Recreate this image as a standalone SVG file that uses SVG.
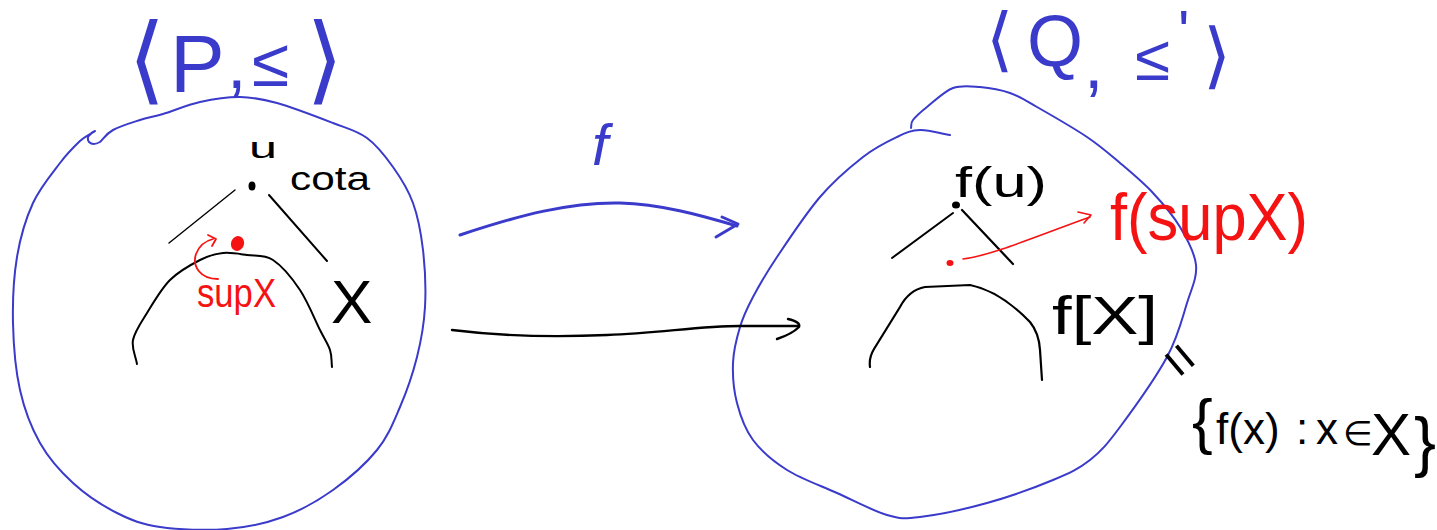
<svg xmlns="http://www.w3.org/2000/svg" width="1437" height="530" viewBox="0 0 1437 530">
<style>
.blue{stroke:#3a3acb;fill:none;stroke-linecap:round;stroke-linejoin:round}
.blk{stroke:#000;fill:none;stroke-linecap:round;stroke-linejoin:round}
.red{stroke:#f51212;fill:none;stroke-linecap:round;stroke-linejoin:round}
text{font-family:"Liberation Sans","DejaVu Sans",sans-serif}
.tb{fill:#3a3acb}
.tk{fill:#000}
.tr{fill:#f51212}
</style>
<rect width="1437" height="530" fill="#fff"/>
<g id="poset-P">
<path class="blue" stroke-width="2" d="M95,131 Q85,136 89,142 Q93,146 100,142 C104,138 106.3,133.7 113,130 S131.7,122.7 140,120 S153,117 163,114 S187.2,104.8 200,102 S227.2,96.8 240,97 S261.5,98.7 277,103 S318,117.2 333,123 S357,130.7 367,138 S385.3,156.2 393,167 S408,189.2 413,203 S421,232.7 423,250 S426,289.2 425,307 S421.2,340.3 417,357 S406.7,391.5 400,407 S388.2,436.2 377,450 S348.7,478.8 333,490 S300.7,510.5 283,517 S247.5,527.3 227,529 S178.3,529.7 160,527 S131.5,520.3 117,513 S85.8,494.7 73,483 S48.8,458.5 40,443 S24.5,410 20,390 S13.5,345.2 13,323 S13.7,277 17,257 S25.8,218.7 33,203 S52.2,173.3 60,163 S75,145.8 80,141 S86.7,136.3 90,134"/>
<text class="tb"><tspan x="128" y="92" font-size="96">⟨</tspan><tspan x="170" y="92" font-size="82">P</tspan><tspan x="227" y="88" font-size="70">,</tspan><tspan x="246" y="88" font-size="8"> </tspan><tspan x="252" y="86" font-size="68">≤</tspan><tspan x="306" y="92" font-size="96">⟩</tspan></text>
</g>
<g id="set-X">
<path class="blk" stroke-width="2" d="M137,364 C135.7,356 131.3,348.5 133,340 S140.8,323 147,313 S161.2,288.8 170,280 S191.2,264.5 200,260 S215.2,253.8 223,253 S238.7,253.8 247,255 S264.2,254.2 273,260 S292.2,278.3 300,290 S315,320 320,330 S328,343.8 330,350 S331.3,361.3 332,367"/>
<text class="tk" x="331" y="323" font-size="62">X</text>
</g>
<g id="upper-bound-u">
<ellipse cx="252" cy="186" rx="3.5" ry="4.5" fill="#000"/>
<path class="blk" stroke-width="1.4" d="M235,190 L169,243"/>
<path class="blk" stroke-width="2" d="M269,195 L327,261"/>
<text class="tk" x="249" y="158" font-size="30" textLength="28" lengthAdjust="spacingAndGlyphs">u</text>
<text class="tk" x="290" y="190" font-size="34" textLength="80" lengthAdjust="spacingAndGlyphs">cota</text>
</g>
<g id="supX">
<ellipse cx="237.5" cy="243.5" rx="6.5" ry="7.5" fill="#f51212" transform="rotate(20 237.5 243.5)"/>
<text class="tr" x="197" y="307" font-size="40" textLength="79" lengthAdjust="spacingAndGlyphs">supX</text>
</g>
<g id="poset-Q">
<path class="blue" stroke-width="2" d="M950,135 C940,133.3 928.8,129.7 920,130 S906.5,132.5 897,137 S875.8,147 863,157 S834.3,180.3 820,197 S788.2,240.3 777,257 S759.2,285.3 753,297 S743.3,316 740,327 S733.5,350.3 733,363 S733.7,390.2 737,403 S744.7,428.8 753,440 S773,461.2 787,470 S820.3,485.5 837,493 S873.2,511 887,515 S903.3,519 920,517 S964.8,509.2 987,503 S1035.8,487.2 1053,480 S1078.8,468.8 1090,460 S1107.2,444.2 1120,427 S1155.8,377.7 1167,357 S1182.2,318.3 1187,303 S1197.2,277.7 1196,265 S1187.2,239 1180,227 S1163,203.7 1153,193 S1131,172.3 1120,163 S1100.8,146.3 1087,137 S1049.8,114.3 1037,107 S1019.5,96.3 1010,93 S989.5,87.8 980,87 S961.8,84.7 953,88 S933.7,101.7 927,107 S915.7,116.5 913,120 S911.7,125.3 911,128"/>
<text class="tb"><tspan x="986" y="63" font-size="70">⟨</tspan><tspan x="1027" y="66" font-size="72">Q</tspan><tspan x="1084" y="88" font-size="70">,</tspan><tspan x="1104" y="88" font-size="8"> </tspan><tspan x="1135" y="80" font-size="64">≤</tspan><tspan x="1178" y="52" font-size="60">'</tspan><tspan x="1203" y="80" font-size="72">⟩</tspan></text>
</g>
<g id="image-fX">
<path class="blk" stroke-width="2.2" d="M870,367 C869,360 871,354 874,349 L900,307 Q909,290 925,287 L970,285 Q1000,291 1030,322 Q1039,333 1040,350 L1042,380"/>
<text class="tk" x="1052" y="334" font-size="54" textLength="106" lengthAdjust="spacingAndGlyphs">f[X]</text>
<text class="tk" transform="translate(1180 360) rotate(50)" x="0" y="18" font-size="54" text-anchor="middle">=</text>
<text class="tk"><tspan x="1192" y="442" font-size="62">{</tspan><tspan x="1216" y="444" font-size="44">f(x)</tspan><tspan x="1296" y="444" font-size="44">:</tspan><tspan x="1316" y="444" font-size="44">x</tspan><tspan x="1343" y="445" font-size="34">∈</tspan><tspan x="1371" y="455" font-size="60">X</tspan><tspan x="1414" y="464" font-size="66">}</tspan></text>
</g>
<g id="image-fu">
<ellipse cx="956" cy="205" rx="4" ry="3.5" fill="#000"/>
<path class="blk" stroke-width="2" d="M953,213 L892,258"/>
<path class="blk" stroke-width="2.2" d="M962,210 L1013,264"/>
<text class="tk" x="955" y="197" font-size="42" textLength="92" lengthAdjust="spacingAndGlyphs">f(u)</text>
</g>
<g id="image-fsupX">
<ellipse cx="950" cy="263" rx="3.5" ry="3" fill="#f51212"/>
<text class="tr" x="1110" y="240" font-size="66" textLength="198" lengthAdjust="spacingAndGlyphs">f(supX)</text>
</g>
<g id="connectors">
<path class="blue" stroke-width="3" d="M460,235 C520,215 570,202 620,203 C660,204 700,215 737,226"/>
<path class="blue" stroke-width="3" d="M722,217 L738,224 L716,237"/>
<text class="tb" x="600" y="165" font-size="58" font-style="italic" text-anchor="middle">f</text>
<path class="blk" stroke-width="2.4" d="M452,330 C500,336 560,337 607,335 C660,333 700,326 740,326 L798,326"/>
<path class="blk" stroke-width="2.4" d="M788,319 Q801,322 799,327 Q792,334 777,339"/>
<path class="red" stroke-width="1.8" d="M218,279 C200,279 192,266 196,254 C199,246 205,241 213,239"/>
<path class="red" stroke-width="1.8" d="M208,235 L216,239 L212,246"/>
<path class="red" stroke-width="1.6" d="M963,259 C990,256 1040,235 1090,217"/>
<path class="red" stroke-width="1.6" d="M1078,212 L1091,215 L1084,223"/>
</g>
</svg>
